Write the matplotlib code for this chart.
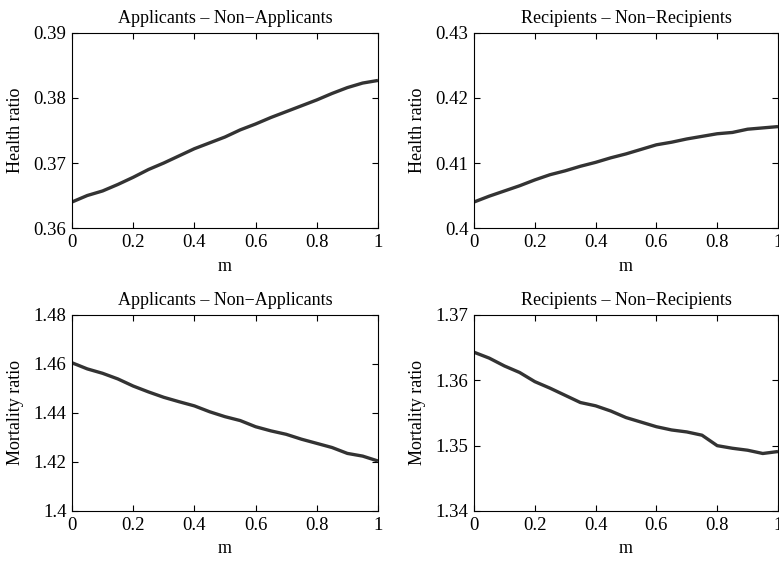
import numpy as np
import matplotlib
matplotlib.use('Agg')
import matplotlib.pyplot as plt

plt.rcParams['font.family'] = ['Liberation Serif', 'DejaVu Serif']

# m grid
m = [0.0, 0.05, 0.1, 0.15, 0.2, 0.25, 0.3, 0.35, 0.4, 0.45, 0.5,
     0.55, 0.6, 0.65, 0.7, 0.75, 0.8, 0.85, 0.9, 0.95, 1.0]

# health ratio, applicants vs non-applicants
health_app = [0.3640, 0.3650, 0.3657, 0.3667, 0.3678, 0.3690, 0.3700, 0.3711,
              0.3722, 0.3731, 0.3740, 0.3751, 0.3760, 0.3770, 0.3779, 0.3788,
              0.3797, 0.3807, 0.3816, 0.3823, 0.3827]
# health ratio, recipients vs non-recipients
health_rec = [0.4040, 0.4049, 0.4057, 0.4065, 0.4074, 0.4082, 0.4088, 0.4095,
              0.4101, 0.4108, 0.4114, 0.4121, 0.4128, 0.4132, 0.4137, 0.4141,
              0.4145, 0.4147, 0.4152, 0.4154, 0.4156]
# mortality ratio, applicants vs non-applicants
mort_app = [1.4605, 1.4580, 1.4562, 1.4539, 1.4510, 1.4486, 1.4464, 1.4446,
            1.4429, 1.4405, 1.4385, 1.4369, 1.4344, 1.4327, 1.4313, 1.4293,
            1.4276, 1.4259, 1.4235, 1.4224, 1.4204]
# mortality ratio, recipients vs non-recipients
mort_rec = [1.3643, 1.3634, 1.3622, 1.3612, 1.3598, 1.3588, 1.3577, 1.3566,
            1.3561, 1.3553, 1.3543, 1.3536, 1.3529, 1.3524, 1.3521, 1.3516,
            1.3500, 1.3496, 1.3493, 1.3488, 1.3491]

titles = ['Applicants \u2013 Non\u2212Applicants', 'Recipients \u2013 Non\u2212Recipients']

panels = [
    (health_app, titles[0], 'Health ratio', [0.36, 0.37, 0.38, 0.39], ['0.36', '0.37', '0.38', '0.39']),
    (health_rec, titles[1], 'Health ratio', [0.40, 0.41, 0.42, 0.43], ['0.4', '0.41', '0.42', '0.43']),
    (mort_app, titles[0], 'Mortality ratio', [1.40, 1.42, 1.44, 1.46, 1.48], ['1.4', '1.42', '1.44', '1.46', '1.48']),
    (mort_rec, titles[1], 'Mortality ratio', [1.34, 1.35, 1.36, 1.37], ['1.34', '1.35', '1.36', '1.37']),
]

# axes boxes in figure fractions [left, bottom, width, height]
boxes = [[0.0924, 0.595, 0.3928, 0.3464],
         [0.6085, 0.595, 0.3902, 0.3464],
         [0.0924, 0.0924, 0.3928, 0.3481],
         [0.6085, 0.0924, 0.3902, 0.3481]]

fig = plt.figure(figsize=(7.79, 5.63), dpi=100)

for (vals, title, ylab, yt, ytl), box in zip(panels, boxes):
    ax = fig.add_axes(box)
    ax.plot(m, vals, color='#333333', lw=2.4, solid_capstyle='butt')
    ax.set_xlim(0, 1)
    ax.set_ylim(yt[0], yt[-1])
    ax.set_xticks([0, 0.2, 0.4, 0.6, 0.8, 1])
    ax.set_xticklabels(['0', '0.2', '0.4', '0.6', '0.8', '1'])
    ax.set_yticks(yt)
    ax.set_yticklabels(ytl)
    ax.tick_params(direction='in', top=True, right=True, length=4, width=0.8,
                   labelsize=13.5, pad=4)
    ax.set_title(title, fontsize=13, pad=7)
    ax.set_xlabel('m', fontsize=13, labelpad=5)
    ax.set_ylabel(ylab, fontsize=13, labelpad=7)
    for s in ax.spines.values():
        s.set_linewidth(0.8)

fig.savefig('out.png', dpi=100)
